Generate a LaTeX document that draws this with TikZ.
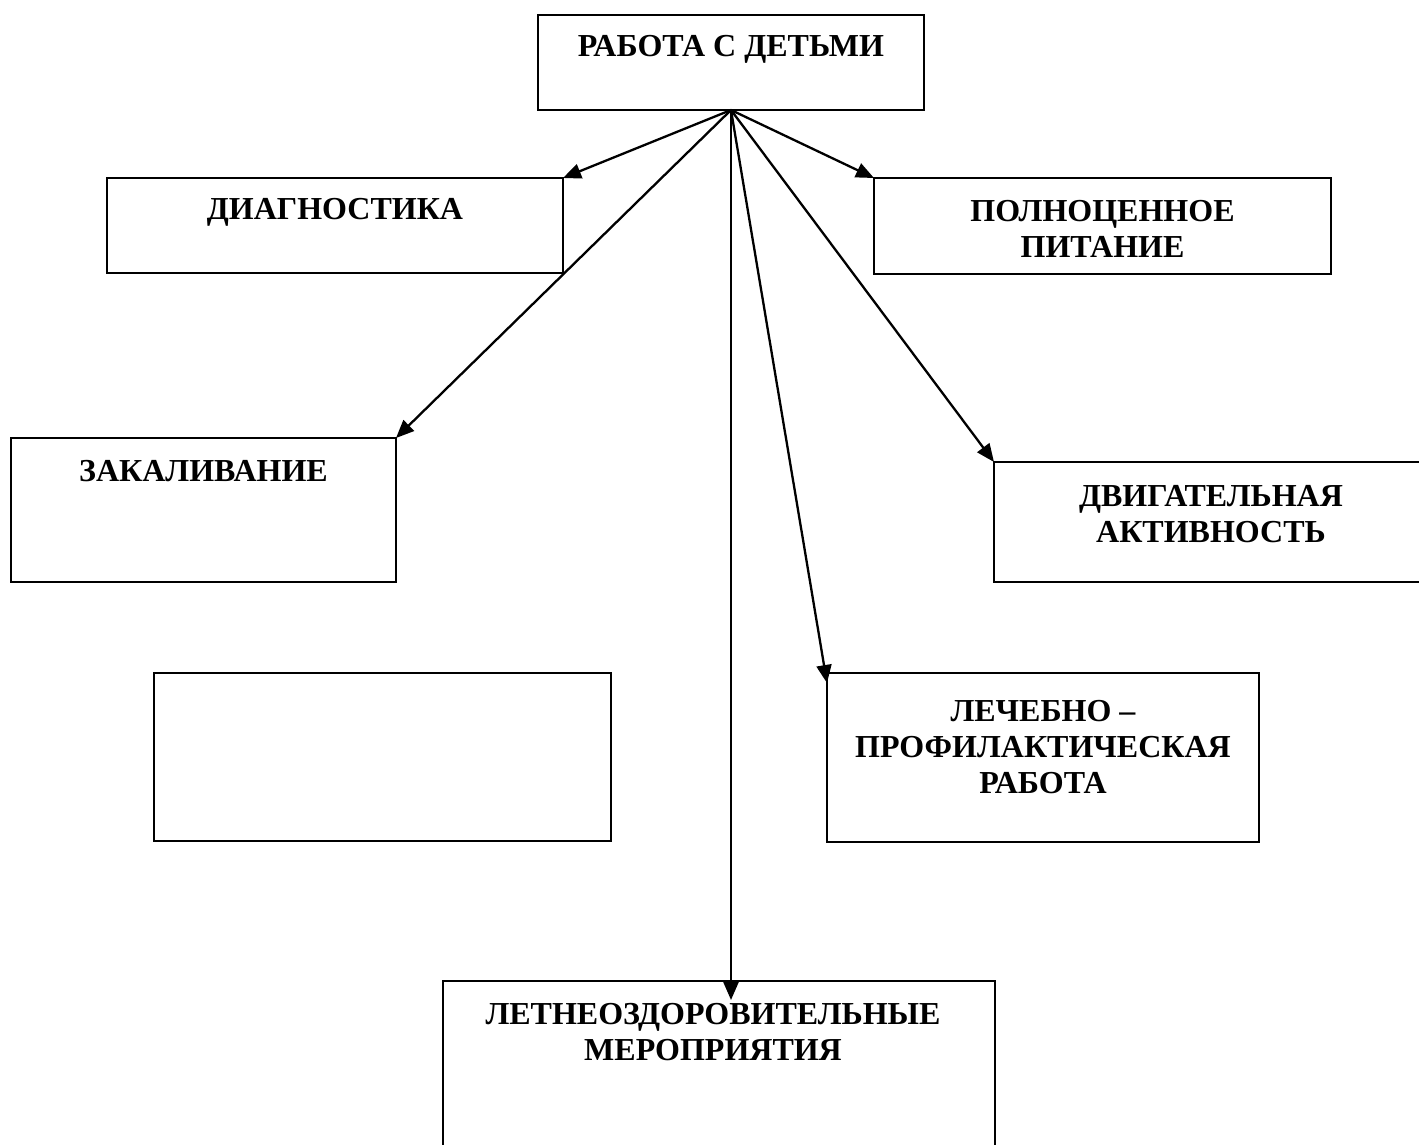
\documentclass[tikz,border=0pt]{standalone}
\usepackage{fontspec}
\setmainfont{Liberation Serif}
\usetikzlibrary{positioning,calc,arrows.meta}

\tikzset{
  blok/.style={draw, line width=2pt, rectangle, outer sep=0pt, inner sep=0pt, anchor=north west},
  tekst/.style={inner sep=0pt, align=center, font=\bfseries\fontsize{32}{36}\selectfont},
  strelka/.style={line width=2.3pt, -{Triangle[length=18pt,width=15pt]}}
}

\begin{document}
\begin{tikzpicture}[x=1pt, y=-1pt]
    \useasboundingbox (0,0) rectangle (1419,1144);
    \clip (0,0) rectangle (1419,1144);

    \node[blok, minimum width=386, minimum height=95] (rabota) at (538,15) {};
    \node[blok, minimum width=456, minimum height=95] (diag) at (107,178) {};
    \node[blok, minimum width=457, minimum height=96] (pitanie) at (874,178) {};
    \node[blok, minimum width=385, minimum height=144] (zakal) at (11,438) {};
    \node[blok, minimum width=434, minimum height=120] (dvig) at (994,462) {};
    \node[blok, minimum width=457, minimum height=168] (pusto) at (154,673) {};
    \node[blok, minimum width=432, minimum height=169] (lech) at (827,673) {};
    \node[blok, minimum width=552, minimum height=190] (leto) at (443,981) {};

    \node[tekst, below=20pt of rabota.north] {РАБОТА С ДЕТЬМИ};
    \node[tekst, below=20pt of diag.north] {ДИАГНОСТИКА};
    \node[tekst, below=22pt of pitanie.north] {ПОЛНОЦЕННОЕ\\ПИТАНИЕ};
    \node[tekst, below=22pt of zakal.north] {ЗАКАЛИВАНИЕ};
    \node[tekst, below=23pt of dvig.north] {ДВИГАТЕЛЬНАЯ\\АКТИВНОСТЬ};
    \node[tekst, below=27pt of lech.north] {ЛЕЧЕБНО –\\ПРОФИЛАКТИЧЕСКАЯ\\РАБОТА};
    \node[tekst, below=22pt of leto.north, xshift=-6pt] {ЛЕТНЕОЗДОРОВИТЕЛЬНЫЕ\\МЕРОПРИЯТИЯ};

    \draw[strelka] (rabota.south) -- (diag.north east);
    \draw[strelka] (rabota.south) -- (pitanie.north west);
    \draw[strelka] (rabota.south) -- (zakal.north east);
    \draw[strelka] (rabota.south) -- (dvig.north west);
    \draw[strelka] (rabota.south) -- ($(lech.north west)+(0,10)$);
    \draw[strelka] (rabota.south) -- ($(rabota.south |- leto.north)+(0,19)$);
\end{tikzpicture}
\end{document}
